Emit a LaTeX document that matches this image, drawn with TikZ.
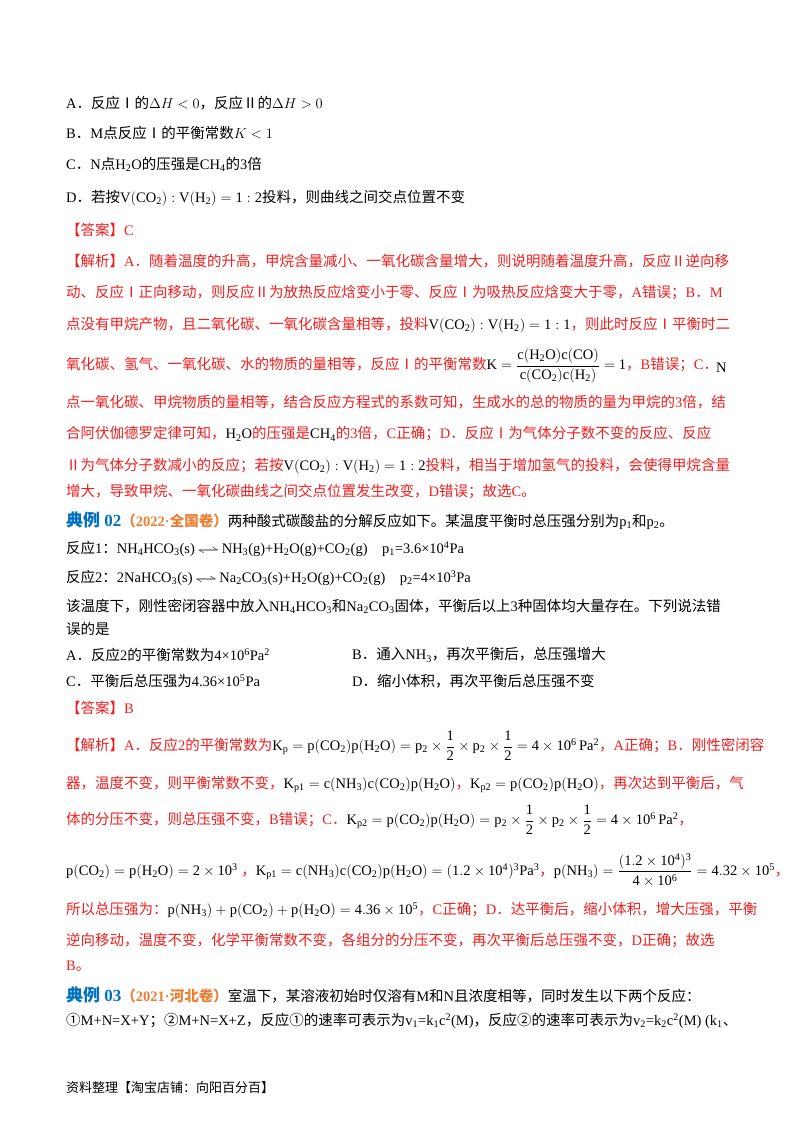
\documentclass[tikz,border=0pt]{standalone}
\usepackage{fontspec}
\usepackage{amsmath,mathtools}
\setmainfont{Liberation Serif}
\newfontfamily\cjk{Noto Sans CJK SC}
\newcommand\lat{\rmfamily}
\XeTeXinterchartokenstate=1
\newXeTeXintercharclass\cjkclass
\makeatletter
\def\setcls#1#2{\count255=#1 \loop\XeTeXcharclass\count255=\cjkclass\ifnum\count255<#2 \advance\count255 1 \repeat}
\setcls{"3000}{"9FFF}
\setcls{"FF00}{"FFEF}
\setcls{"2150}{"218F}
\setcls{"2460}{"24FF}
\makeatother
\XeTeXinterchartoks 0 \cjkclass={\cjk}
\XeTeXinterchartoks 4095 \cjkclass={\cjk}
\XeTeXinterchartoks \cjkclass 0={\lat}
\XeTeXinterchartoks \cjkclass 4095={\lat}
\definecolor{ans}{RGB}{240,30,30}
\definecolor{blu}{RGB}{0,112,192}
\definecolor{org}{RGB}{237,125,49}
\tikzset{ln/.style={anchor=west,inner sep=0pt,font=\fontsize{14.5}{17}\selectfont},
 rd/.style={ln,text=ans}}
\newcommand\eqarr{\,\resizebox{22pt}{5pt}{$\rightleftharpoons$}\,}
\begin{document}
\begin{tikzpicture}[x=1pt,y=-1pt]
\useasboundingbox[fill=white] (0,0) rectangle (800,1132);
\node[ln] (a) at (66,103) {A．反应Ⅰ的$\Delta H<0$，反应Ⅱ的$\Delta H>0$};
\node[ln] (b) at (66,133) {B．M点反应Ⅰ的平衡常数$K<1$};
\node[ln] (c) at (66,164) {C．N点$\mathrm{H_2O}$的压强是$\mathrm{CH_4}$的3倍};
\node[ln] (d) at (66,198) {D．若按$\mathrm{V(CO_2):V(H_2)=1:2}$投料，则曲线之间交点位置不变};
\node[rd] (ans1) at (66,230) {【答案】C};
\node[rd] (j1) at (66,261) {【解析】A．随着温度的升高，甲烷含量减小、一氧化碳含量增大，则说明随着温度升高，反应Ⅱ逆向移};
\node[rd] (j2) at (66,293) {动、反应Ⅰ正向移动，则反应Ⅱ为放热反应焓变小于零、反应Ⅰ为吸热反应焓变大于零，A错误；B．M};
\node[rd] (j3) at (66,325) {点没有甲烷产物，且二氧化碳、一氧化碳含量相等，投料\textcolor{black}{$\mathrm{V(CO_2):V(H_2)=1:1}$}，则此时反应Ⅰ平衡时二};
\node[rd] (j4) at (66,366) {氧化碳、氢气、一氧化碳、水的物质的量相等，反应Ⅰ的平衡常数\textcolor{black}{$\mathrm{K=\dfrac{c(H_2O)c(CO)}{c(CO_2)c(H_2)}=1}$}，B错误；C．};
\node[ln] (jn) at (716,368) {N};
\node[rd] (j5) at (66,402) {点一氧化碳、甲烷物质的量相等，结合反应方程式的系数可知，生成水的总的物质的量为甲烷的3倍，结};
\node[rd] (j6) at (66,434) {合阿伏伽德罗定律可知，\textcolor{black}{$\mathrm{H_2O}$}的压强是\textcolor{black}{$\mathrm{CH_4}$}的3倍，C正确；D．反应Ⅰ为气体分子数不变的反应、反应};
\node[rd] (j7) at (66,466) {Ⅱ为气体分子数减小的反应；若按\textcolor{black}{$\mathrm{V(CO_2):V(H_2)=1:2}$}投料，相当于增加氢气的投料，会使得甲烷含量};
\node[rd] (j8) at (66,492) {增大，导致甲烷、一氧化碳曲线之间交点位置发生改变，D错误；故选C。};
\node[ln] (t2) at (66,521) {\textcolor{blu}{\fontsize{17}{20}\selectfont\bfseries 典例 02}\textcolor{org}{\bfseries（2022·全国卷）}两种酸式碳酸盐的分解反应如下。某温度平衡时总压强分别为p\textsubscript{1}和p\textsubscript{2}。};
\node[ln] (r1) at (66,549) {反应1：NH\textsubscript{4}HCO\textsubscript{3}(s)\eqarr NH\textsubscript{3}(g)+H\textsubscript{2}O(g)+CO\textsubscript{2}(g)\quad p\textsubscript{1}=3.6×10\textsuperscript{4}Pa};
\node[ln] (r2) at (66,578) {反应2：2NaHCO\textsubscript{3}(s)\eqarr Na\textsubscript{2}CO\textsubscript{3}(s)+H\textsubscript{2}O(g)+CO\textsubscript{2}(g)\quad p\textsubscript{2}=4×10\textsuperscript{3}Pa};
\node[ln] (q1) at (66,606) {该温度下，刚性密闭容器中放入NH\textsubscript{4}HCO\textsubscript{3}和Na\textsubscript{2}CO\textsubscript{3}固体，平衡后以上3种固体均大量存在。下列说法错};
\node[ln] (q2) at (66,629) {误的是};
\node[ln] (oa) at (66,655) {A．反应2的平衡常数为4×10\textsuperscript{6}Pa\textsuperscript{2}};
\node[ln] (ob) at (352,655) {B．通入NH\textsubscript{3}，再次平衡后，总压强增大};
\node[ln] (oc) at (66,681) {C．平衡后总压强为4.36×10\textsuperscript{5}Pa};
\node[ln] (od) at (352,681) {D．缩小体积，再次平衡后总压强不变};
\node[rd] (ans2) at (66,708) {【答案】B};
\node[rd] (k1) at (66,746) {【解析】A．反应2的平衡常数为\textcolor{black}{$\mathrm{K_p=p(CO_2)p(H_2O)=p_2\times\dfrac12\times p_2\times\dfrac12=4\times10^6\,Pa^2}$}，A正确；B．刚性密闭容};
\node[rd] (k2) at (66,784) {器，温度不变，则平衡常数不变，\textcolor{black}{$\mathrm{K_{p1}=c(NH_3)c(CO_2)p(H_2O)}$}，\textcolor{black}{$\mathrm{K_{p2}=p(CO_2)p(H_2O)}$}，再次达到平衡后，气};
\node[rd] (k3) at (66,820) {体的分压不变，则总压强不变，B错误；C．\textcolor{black}{$\mathrm{K_{p2}=p(CO_2)p(H_2O)=p_2\times\dfrac12\times p_2\times\dfrac12=4\times10^6\,Pa^2}$}，};
\node[rd] (k4) at (66,870) {\textcolor{black}{$\mathrm{p(CO_2)=p(H_2O)=2\times10^3}$}\ ，\textcolor{black}{$\mathrm{K_{p1}=c(NH_3)c(CO_2)p(H_2O)=(1.2\times10^4)^3Pa^3}$}，\textcolor{black}{$\mathrm{p(NH_3)=\dfrac{(1.2\times10^4)^3}{4\times10^6}=4.32\times10^5}$}，};
\node[rd] (k5) at (66,910) {所以总压强为：\textcolor{black}{$\mathrm{p(NH_3)+p(CO_2)+p(H_2O)=4.36\times10^5}$}，C正确；D．达平衡后，缩小体积，增大压强，平衡};
\node[rd] (k6) at (66,940) {逆向移动，温度不变，化学平衡常数不变，各组分的分压不变，再次平衡后总压强不变，D正确；故选};
\node[rd] (k7) at (66,966) {B。};
\node[ln] (t3) at (66,995) {\textcolor{blu}{\fontsize{17}{20}\selectfont\bfseries 典例 03}\textcolor{org}{\bfseries（2021·河北卷）}室温下，某溶液初始时仅溶有M和N且浓度相等，同时发生以下两个反应：};
\node[ln] (t4) at (66,1021) {①M+N=X+Y；②M+N=X+Z，反应①的速率可表示为v\textsubscript{1}=k\textsubscript{1}c\textsuperscript{2}(M)，反应②的速率可表示为v\textsubscript{2}=k\textsubscript{2}c\textsuperscript{2}(M) (k\textsubscript{1}、};
\node[ln,font=\fontsize{13}{15}\selectfont] (ft) at (66,1088) {资料整理【淘宝店铺：向阳百分百】};
\end{tikzpicture}
\end{document}
